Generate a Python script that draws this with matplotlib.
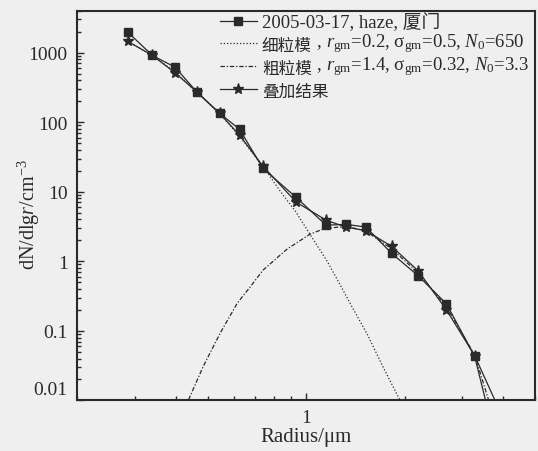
import matplotlib
matplotlib.use("Agg")
import matplotlib.pyplot as plt
from matplotlib.ticker import FixedLocator, FixedFormatter, LogLocator, NullFormatter
from matplotlib.transforms import ScaledTranslation

plt.rcParams['font.family'] = ['Liberation Serif', 'Noto Sans CJK SC']
plt.rcParams['mathtext.fontset'] = 'custom'
plt.rcParams['mathtext.rm'] = 'Liberation Serif'
plt.rcParams['mathtext.it'] = 'Liberation Serif:italic'

# measured points (radius in um)
radius = [0.285, 0.339, 0.397, 0.464, 0.544, 0.626, 0.738, 0.932, 1.151,
          1.324, 1.524, 1.825, 2.200, 2.685, 3.275, 3.99]
observed = [1970, 910, 620, 270, 134, 79, 21.6, 8.3, 3.3,
            3.4, 3.1, 1.3, 0.62, 0.245, 0.043, 0.001]
fitted = [1450, 910, 515, 270, 134, 65, 23.3, 7.1, 3.9,
          3.1, 2.75, 1.64, 0.73, 0.20, 0.044, 0.0057]

# fine mode curve
fine_r = [0.285, 0.339, 0.399, 0.465, 0.543, 0.625, 0.734, 0.833, 0.926,
          1.03, 1.16, 1.27, 1.39, 1.54, 1.72, 1.89, 1.94]
fine_n = [1450, 910, 520, 268, 134, 63, 24, 10.2, 5.3,
          2.4, 1.0, 0.46, 0.21, 0.088, 0.030, 0.0125, 0.0099]

# coarse mode curve
coarse_r = [0.437, 0.485, 0.547, 0.616, 0.675, 0.739, 0.875, 1.03, 1.13,
            1.25, 1.36, 1.52, 1.83, 2.20, 2.69, 3.28, 3.64]
coarse_n = [0.0102, 0.031, 0.094, 0.25, 0.43, 0.75, 1.5, 2.47, 2.91,
            3.1, 3.1, 2.72, 1.5, 0.68, 0.22, 0.044, 0.009]

# legend: chinese part (plain text) + latin/math part
labels = ["2005-03-17, haze, 厦门", "细粒模", "粗粒模", "叠加结果"]
label_tails = ["", " , $r_{\\rm gm}$=0.2, σ$_{\\rm gm}$=0.5, $N_0$=650",
               " , $r_{\\rm gm}$=1.4, σ$_{\\rm gm}$=0.32, $N_0$=3.3", ""]

bg = "#efefef"
ink = "#2a2a2a"

fig = plt.figure(figsize=(5.38, 4.52), dpi=100, facecolor=bg)
ax = fig.add_axes([0.144, 0.112, 0.850, 0.862], facecolor=bg)

ax.plot(radius, observed, color=ink, lw=0.9, marker='s', ms=6, mfc=ink, mec=ink,
        label=labels[0], zorder=3)
ax.plot(fine_r, fine_n, color=ink, lw=0.9, ls=(0, (1, 1.6)), label=labels[1])
ax.plot(coarse_r, coarse_n, color=ink, lw=0.9, ls=(0, (3.5, 1.5, 1, 1.5)),
        label=labels[2])
ax.plot(radius, fitted, color=ink, lw=0.9, marker='*', ms=8, mfc=ink, mec=ink,
        label=labels[3], zorder=3)

ax.set_xscale('log')
ax.set_yscale('log')
ax.set_xlim(0.2, 5)
ax.set_ylim(0.01, 4000)

ax.xaxis.set_major_locator(FixedLocator([1]))
ax.xaxis.set_major_formatter(FixedFormatter(["1"]))
ax.xaxis.set_minor_locator(LogLocator(base=10, subs=range(2, 10), numticks=20))
ax.xaxis.set_minor_formatter(NullFormatter())

yt = [0.01, 0.1, 1, 10, 100, 1000]
ax.yaxis.set_major_locator(FixedLocator(yt))
ax.yaxis.set_major_formatter(FixedFormatter(["0.01", "0.1", "1", "10", "100", "1000"]))
ax.yaxis.set_minor_locator(LogLocator(base=10, subs=range(2, 10), numticks=20))
ax.yaxis.set_minor_formatter(NullFormatter())

ax.tick_params(which='both', direction='in', top=False, right=False,
               labelsize=14, colors=ink, width=1.0)
ax.tick_params(which='major', length=5)
ax.tick_params(which='minor', length=3)
ax.tick_params(axis='y', pad=7)
ax.tick_params(axis='x', pad=6)
for s in ax.spines.values():
    s.set_linewidth(1.5)
    s.set_color(ink)

# lift the bottom label a bit like the original
lab = ax.yaxis.get_major_ticks()[0].label1
lab.set_transform(lab.get_transform() + ScaledTranslation(0, 9 / 72, fig.dpi_scale_trans))

ax.set_xlabel("Radius/μm", fontsize=15, color=ink, labelpad=1)
ax.set_ylabel("dN/dlg$r$/cm$^{-3}$", fontsize=14.5, color=ink)
ax.yaxis.set_label_coords(-0.078, 0.48)

leg = ax.legend(loc='upper left', bbox_to_anchor=(0.307, 1.0), frameon=False,
                fontsize=13.5, handlelength=2.0, handletextpad=0.25, labelspacing=0.3,
                borderaxespad=0.0, borderpad=0.1, labelcolor=ink)
for t in leg.get_texts()[1:]:
    t.set_fontsize(12)

# the legend must be placed before the tails can be attached to its texts
fig.canvas.draw()
for txt, tail in zip(leg.get_texts(), label_tails):
    if tail:
        ax.annotate(tail, xy=(1, 0), xycoords=txt, va='bottom', ha='left',
                    fontsize=13.5, color=ink, annotation_clip=False, zorder=10)

fig.savefig("out.png", dpi=100, facecolor=bg)
